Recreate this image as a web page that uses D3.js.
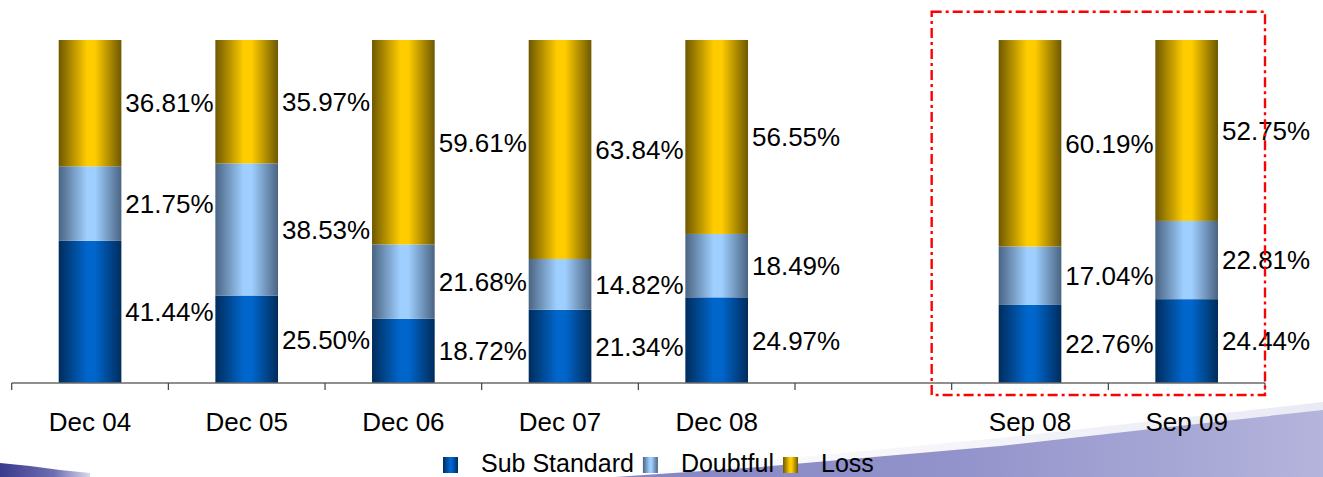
<!DOCTYPE html>
<html>
<head>
<meta charset="utf-8">
<script src="https://cdn.jsdelivr.net/npm/d3@7/dist/d3.min.js"></script>
<style>
  html, body { margin: 0; padding: 0; background: #ffffff; }
  svg { display: block; }
  text { font-family: "Liberation Sans", Arial, sans-serif; fill: #000; }
</style>
</head>
<body>
<svg id="chart" width="1323" height="477"></svg>
<script>
// ---- data ----
const categories = ["Dec 04", "Dec 05", "Dec 06", "Dec 07", "Dec 08", "", "Sep 08", "Sep 09"];
const seriesNames = ["Sub Standard", "Doubtful", "Loss"];
const subStandard = [41.44, 25.50, 18.72, 21.34, 24.97, null, 22.76, 24.44];
const doubtful    = [21.75, 38.53, 21.68, 14.82, 18.49, null, 17.04, 22.81];
const loss        = [36.81, 35.97, 59.61, 63.84, 56.55, null, 60.19, 52.75];
const highlighted = ["Sep 08", "Sep 09"];

// ---- layout ----
const axisY = 383, topY = 40;
const svg = d3.select("#chart");
const defs = svg.append("defs");

const palettes = {
  "Sub Standard": { edge: "#002c5c", mid: "#0066cc" },
  "Doubtful":     { edge: "#4a6482", mid: "#9fcfff" },
  "Loss":         { edge: "#6e5800", mid: "#ffcc00" }
};
seriesNames.forEach((s, i) => {
  const g = defs.append("linearGradient").attr("id", "grad" + i)
    .attr("x1", "0%").attr("x2", "100%").attr("y1", "0%").attr("y2", "0%");
  g.append("stop").attr("offset", "0%").attr("stop-color", palettes[s].edge);
  g.append("stop").attr("offset", "45%").attr("stop-color", palettes[s].mid);
  g.append("stop").attr("offset", "58%").attr("stop-color", palettes[s].mid);
  g.append("stop").attr("offset", "100%").attr("stop-color", palettes[s].edge);
});

// background decoration
const sw = defs.append("linearGradient").attr("id", "swoosh")
  .attr("x1", "0%").attr("x2", "100%").attr("y1", "0%").attr("y2", "0%");
sw.append("stop").attr("offset", "0%").attr("stop-color", "#8484c2");
sw.append("stop").attr("offset", "50%").attr("stop-color", "#9494cc");
sw.append("stop").attr("offset", "100%").attr("stop-color", "#b4b4dc");
const sheen = defs.append("linearGradient").attr("id", "sheen")
  .attr("x1", "0%").attr("x2", "100%").attr("y1", "0%").attr("y2", "0%");
sheen.append("stop").attr("offset", "0%").attr("stop-color", "#ffffff");
sheen.append("stop").attr("offset", "100%").attr("stop-color", "#dcdcee");
const bl = defs.append("linearGradient").attr("id", "blstreak")
  .attr("x1", "0%").attr("x2", "100%").attr("y1", "0%").attr("y2", "0%");
bl.append("stop").attr("offset", "0%").attr("stop-color", "#3a3a8e");
bl.append("stop").attr("offset", "60%").attr("stop-color", "#6e6eb0");
bl.append("stop").attr("offset", "100%").attr("stop-color", "#d8d8ee");

const deco = svg.append("g");
deco.append("path")
  .attr("d", "M560,477 L760,461 L1000,438 L1323,402 L1323,413 L1000,447 L760,467 L600,477 Z")
  .attr("fill", "url(#sheen)").attr("opacity", 0.6);
deco.append("path")
  .attr("d", "M615,477 L760,467 L1000,446 L1160,428 L1323,410 L1323,477 Z")
  .attr("fill", "url(#swoosh)");
deco.append("path")
  .attr("d", "M0,463 L30,466 L60,470 L90,473 L90,477 L0,477 Z")
  .attr("fill", "url(#blstreak)");

// scales
const x = d3.scaleBand().domain(categories).range([11.7, 1265]).padding(0);
const y = d3.scaleLinear().domain([0, 100]).range([axisY, topY]);
const barW = x.bandwidth() * 0.4;
const barX = c => x(c) + (x.bandwidth() - barW) / 2;

// stacked data
const rows = categories.map((c, i) => ({
  cat: c, "Sub Standard": subStandard[i], "Doubtful": doubtful[i], "Loss": loss[i]
})).filter(r => r["Loss"] != null);
const stacked = d3.stack().keys(seriesNames)(rows);

const barsG = svg.append("g");
stacked.forEach((layer, i) => {
  barsG.selectAll(null).data(layer).enter().append("rect")
    .attr("x", d => barX(d.data.cat))
    .attr("width", barW)
    .attr("y", d => y(d[1]))
    .attr("height", d => y(d[0]) - y(d[1]))
    .attr("fill", "url(#grad" + i + ")");
});

// axis
const axisG = svg.append("g").attr("transform", `translate(0,${axisY})`);
axisG.call(d3.axisBottom(x).tickSize(0).tickPadding(48));
axisG.select(".domain").attr("stroke", "#6a6a6a").attr("stroke-width", 1.5)
  .attr("d", `M${x.range()[0]},0H${x.range()[1]}`);
axisG.selectAll(".tick text")
  .attr("font-size", "26px")
  .attr("font-family", "Liberation Sans, Arial, sans-serif")
  .attr("fill", "#000")
  .attr("dy", "0");
const boundaries = categories.map(c => x(c)).concat([x.range()[1]]);
axisG.selectAll(".bnd").data(boundaries).enter().append("line")
  .attr("x1", d => d).attr("x2", d => d).attr("y1", 0).attr("y2", 7)
  .attr("stroke", "#404040").attr("stroke-width", 1.2);

// value labels
const labelsG = svg.append("g");
stacked.forEach(layer => {
  labelsG.selectAll(null).data(layer).enter().append("text")
    .attr("x", d => barX(d.data.cat) + barW + 4)
    .attr("y", d => (y(d[0]) + y(d[1])) / 2)
    .attr("dy", "0.36em")
    .attr("font-size", "26px")
    .text(d => (d[1] - d[0]).toFixed(2) + "%");
});

// highlight rectangle
const hx0 = x(highlighted[0]) - 20;
const hx1 = x(highlighted[highlighted.length - 1]) + x.bandwidth();
svg.append("rect")
  .attr("x", hx0).attr("y", 11.7)
  .attr("width", hx1 - hx0).attr("height", axisY + 12 - 11.7)
  .attr("fill", "none").attr("stroke", "#ff0000").attr("stroke-width", 2.4)
  .attr("stroke-dasharray", "10,4,3,4");

// legend (flowing: symbol, label, symbol, label ...)
const legend = svg.append("g");
let lx = 443;
seriesNames.forEach((s, i) => {
  legend.append("rect").attr("x", lx).attr("y", 457).attr("width", 15).attr("height", 16)
    .attr("fill", "url(#grad" + i + ")");
  const t = legend.append("text").attr("x", lx + 38).attr("y", 472)
    .attr("font-size", "25px").text(s);
  lx = lx + 38 + t.node().getComputedTextLength() + 9;
});
</script>
</body>
</html>
